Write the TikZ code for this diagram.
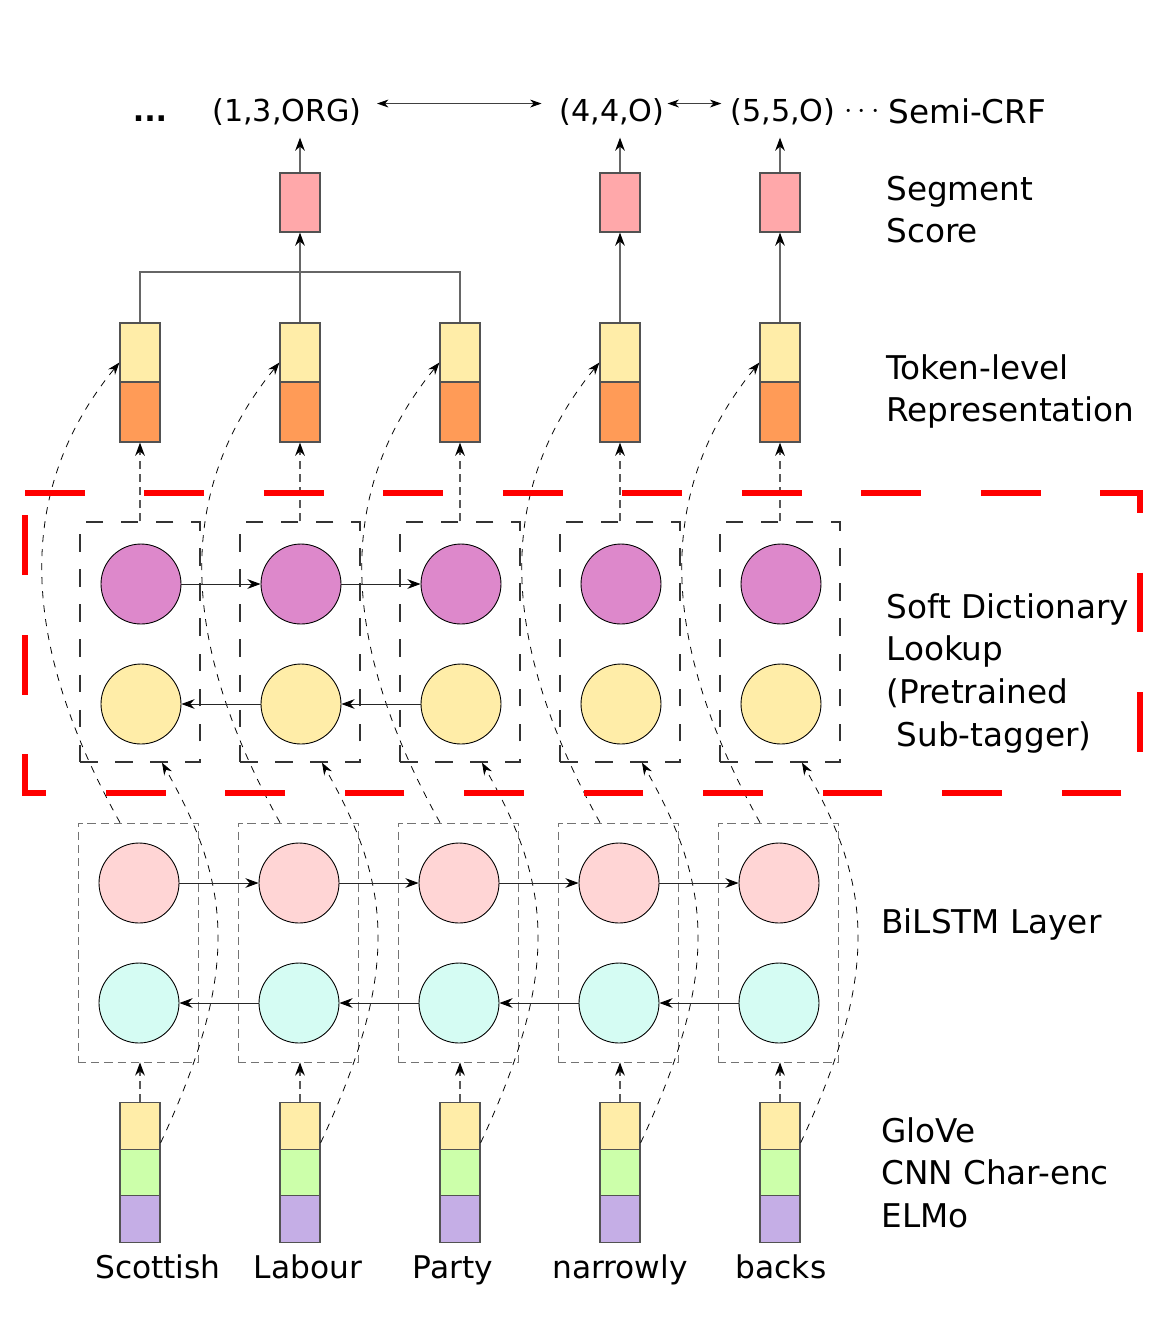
\documentclass[tikz,border=0pt]{standalone}
\usepackage{fontspec}
\setmainfont{DejaVu Sans}
\usetikzlibrary{arrows.meta,calc}
\definecolor{segpink}{HTML}{FFA8AA}
\definecolor{tokyel}{HTML}{FFEDA8}
\definecolor{tokorg}{HTML}{FF9B57}
\definecolor{sdmag}{HTML}{DD88CB}
\definecolor{lstmpink}{HTML}{FFD5D5}
\definecolor{lstmcyan}{HTML}{D5FCF3}
\definecolor{embgreen}{HTML}{CCFFAA}
\definecolor{embpurp}{HTML}{C5AEE6}
\newcommand\mylines[1]{\begin{tabular}[t]{@{}l@{}}#1\end{tabular}}
\newcommand\fbig{\fontsize{18.6}{24.3}\selectfont}
\newcommand\fmid{\fontsize{17.8}{21}\selectfont}
\newcommand\ftop{\fontsize{17.2}{21}\selectfont}
\begin{document}
\begin{tikzpicture}[x=0.02cm,y=-0.02cm,
  blk/.style={draw=black!68, line width=0.7pt, inner sep=0, minimum width=0.8cm},
  circ/.style={circle, draw=black, line width=0.5pt, inner sep=0, minimum size=1.6cm},
  tipk/.style={-{Stealth[length=7.5pt,width=5.5pt,inset=2.5pt,color=black]}},
  gline/.style={draw=black!60, line width=0.6pt},
  garr/.style={gline, tipk},
  harr/.style={draw=black!85, line width=0.5pt, tipk},
  darr/.style={draw=black!65, line width=0.8pt, dash pattern=on 4.5pt off 3pt, tipk},
  sdbox/.style={draw=black!80, line width=0.75pt, dash pattern=on 10pt off 10pt, minimum width=2.4cm, minimum height=4.8cm, inner sep=0},
  lbox/.style={draw=black!55, line width=0.45pt, dash pattern=on 4.7pt off 2.8pt, minimum width=2.4cm, minimum height=4.78cm, inner sep=0},
  curv/.style={draw=black, line width=0.45pt, dash pattern=on 4pt off 4pt, -{Stealth[length=7pt,width=5pt,inset=2.3pt]}},
  reddash/.style={draw=red, line width=3.4pt, dash pattern=on 34pt off 34pt},
  rlab/.style={font=\fbig, anchor=base west, inner sep=0},
  word/.style={font=\fmid, anchor=base, inner sep=0},
  toplab/.style={font=\ftop, anchor=base, inner sep=0},
  dblarr/.style={draw=black!75, line width=0.5pt, {Stealth[length=6.5pt,width=4.5pt,inset=2pt,color=black]}-{Stealth[length=6.5pt,width=4.5pt,inset=2pt,color=black]}}
]
\useasboundingbox (0,0) rectangle (1153,1323);

% ---- top labels ----
\node[toplab, font=\ftop\bfseries] (dots) at (150,121) {...};
\node[toplab] (l1) at (287,121) {(1,3,ORG)};
\node[toplab] (l4) at (612,121) {(4,4,O)};
\node[toplab] (l5) at (783,121) {(5,5,O)};
\node[inner sep=0, font=\fbig] (cd) at (862,112) {$\cdots$};
\node[rlab] (crf) at (888,123) {Semi-CRF};

% ---- right labels ----
\node[rlab] (lseg) at (886,200) {\mylines{Segment\\Score}};
\node[rlab] (ltok) at (886,379) {\mylines{Token-level\\Representation}};
\node[rlab] (lsd) at (886,618) {\mylines{Soft Dictionary\\Lookup\\(Pretrained\\\ Sub-tagger)}};
\node[rlab] (lbi) at (881,933) {BiLSTM Layer};
\node[rlab] (lemb) at (881,1142) {\mylines{GloVe\\CNN Char-enc\\ELMo}};

% ---- columns ----
\foreach \i/\x/\w/\wx in {1/140/Scottish/158,2/300/Labour/308,3/460/Party/453,4/620/narrowly/620,5/780/backs/781}{
  % token-level representation
  \node[blk, fill=tokyel, minimum height=1.18cm] (ty\i) at (\x,352.5) {};
  \node[blk, fill=tokorg, minimum height=1.2cm] (to\i) at (\x,412) {};
  % soft dictionary
  \node[sdbox] (d\i) at (\x,642) {};
  \node[circ, fill=sdmag] (m\i) at (\x+1,584) {};
  \node[circ, fill=tokyel] (y\i) at (\x+1,704) {};
  % bilstm
  \node[lbox] (b\i) at (\x-2,942.5) {};
  \node[circ, fill=lstmpink] (p\i) at (\x-1,883) {};
  \node[circ, fill=lstmcyan] (c\i) at (\x-1,1003) {};
  % embeddings
  \node[blk, fill=tokyel, minimum height=0.93cm] (ey\i) at (\x,1126) {};
  \node[blk, fill=embgreen, minimum height=0.93cm] (eg\i) at (\x,1172.5) {};
  \node[blk, fill=embpurp, minimum height=0.93cm] (ep\i) at (\x,1219) {};
  % word
  \node[word] (w\i) at (\wx,1278) {\w};
  % vertical dashed arrows
  \draw[darr] (d\i.north) -- (to\i.south);
  \draw[darr] (ey\i.north) -- (ey\i.north |- b\i.south);
  % long dashed curves
  \draw[curv] ($(ey\i.south east)+(0,-7)$) .. controls +(81,-174) and +(69,122) .. ($(d\i.south)+(22,0)$);
  \draw[curv] ($(b\i.north)+(-18,0)$) .. controls +(-113,-203) and +(-93,114) .. ($(ty\i.west)+(0,10)$);
}

% ---- segment scores ----
\node[blk, fill=segpink, minimum height=1.18cm] (s2) at (300,202.5) {};
\node[blk, fill=segpink, minimum height=1.18cm] (s4) at (620,202.5) {};
\node[blk, fill=segpink, minimum height=1.18cm] (s5) at (780,202.5) {};

\coordinate (join) at (300,272);
\draw[gline] (ty1.north) |- (join) -| (ty3.north);
\draw[garr] (ty2.north) -- (s2.south);
\draw[garr] (ty4.north) -- (s4.south);
\draw[garr] (ty5.north) -- (s5.south);
\draw[garr, shorten >=7pt] (s2.north) -- (s2.north |- l1.south);
\draw[garr, shorten >=7pt] (s4.north) -- (s4.north |- l4.south);
\draw[garr, shorten >=7pt] (s5.north) -- (s5.north |- l5.south);
\draw[dblarr, shorten <=8.5pt, shorten >=10pt] ($(l1.east)+(0,-8)$) -- ($(l4.west)+(0,-8)$);
\draw[dblarr, shorten <=1.5pt, shorten >=5pt] ($(l4.east)+(0,-8)$) -- ($(l5.west)+(0,-8)$);

% ---- recurrent arrows ----
\foreach \a/\b in {1/2,2/3}{
  \draw[harr] (m\a) -- (m\b);
  \draw[harr] (y\b) -- (y\a);
}
\foreach \a/\b in {1/2,2/3,3/4,4/5}{
  \draw[harr] (p\a) -- (p\b);
  \draw[harr] (c\b) -- (c\a);
}

% ---- red dashed frame ----
\coordinate (r1) at (25,493);
\coordinate (r2) at (1140,493);
\coordinate (r3) at (1140,793);
\coordinate (r4) at (25,793);
\draw[reddash] (r1) -- (r2) -- (r3) -- (r4) -- cycle;
\end{tikzpicture}
\end{document}
